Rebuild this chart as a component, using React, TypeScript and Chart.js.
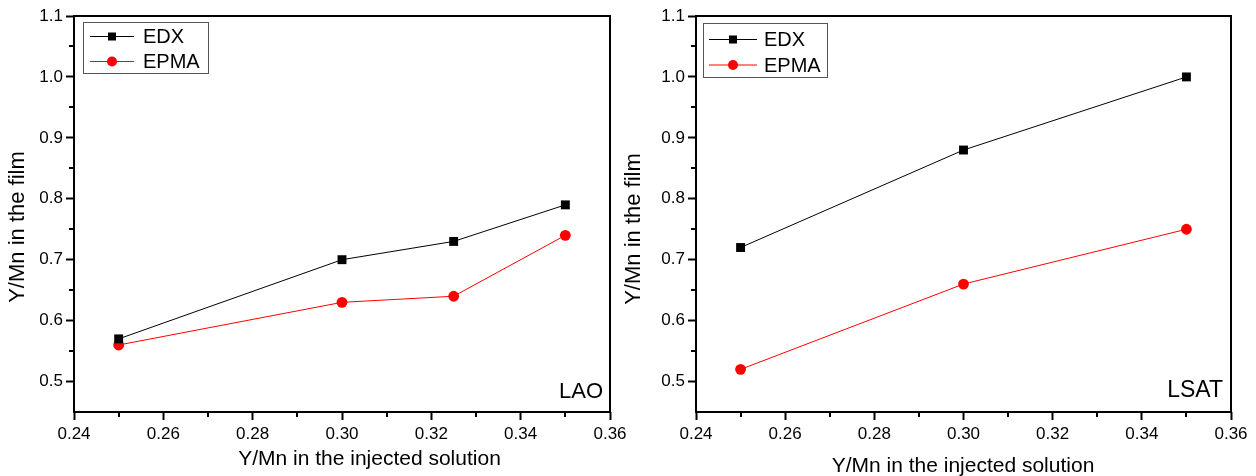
import React, { useEffect, useRef } from 'react';
import { Chart, registerables } from 'chart.js';

Chart.register(...registerables);

const FONT = '"Liberation Sans", Arial, Helvetica, sans-serif';

// ---- data ----
const seriesNames = ['EDX', 'EPMA'];
const seriesColors = ['#000000', '#ff0000'];
const seriesPointStyles = ['rect', 'circle'];

const laoX = [0.25, 0.3, 0.325, 0.35];
const laoEdx = [0.57, 0.7, 0.73, 0.79];
const laoEpma = [0.56, 0.63, 0.64, 0.74];

const lsatX = [0.25, 0.3, 0.35];
const lsatEdx = [0.72, 0.88, 1.0];
const lsatEpma = [0.52, 0.66, 0.75];

const xTickValues = [0.24, 0.26, 0.28, 0.3, 0.32, 0.34, 0.36];
const yTickValues = [0.5, 0.6, 0.7, 0.8, 0.9, 1.0, 1.1];
const xMinorValues = [0.25, 0.27, 0.29, 0.31, 0.33, 0.35];
const yMinorValues = [0.55, 0.65, 0.75, 0.85, 0.95, 1.05];

const xTitleText = 'Y/Mn in the injected solution';
const yTitleText = 'Y/Mn in the film';

const X_MIN = 0.24;
const X_MAX = 0.36;
const Y_MIN = 0.45;
const Y_MAX = 1.1;

type PanelSpec = {
  left: number;
  width: number;
  height: number;
  padRight: number;
  yWidth: number;
  xs: number[];
  edx: number[];
  epma: number[];
  label: string;
  labelFont: number;
  labelRightInset: number;
  labelBaseline: number;
  legend: { x: number; y: number; w: number; h: number; rows: number[]; lx1: number; lx2: number; tx: number };
  xTitle: { x: number; y: number };
  yTitle: { x: number; y: number };
};

const panels: PanelSpec[] = [
  {
    left: 0,
    width: 640,
    height: 476,
    padRight: 30,
    yWidth: 74,
    xs: laoX,
    edx: laoEdx,
    epma: laoEpma,
    label: 'LAO',
    labelFont: 22,
    labelRightInset: 7,
    labelBaseline: 398,
    legend: { x: 83, y: 22, w: 125, h: 51, rows: [36.5, 61.5], lx1: 90, lx2: 134, tx: 143 },
    xTitle: { x: 369.5, y: 459 },
    yTitle: { x: 17.5, y: 227 },
  },
  {
    left: 620,
    width: 636,
    height: 476,
    padRight: 25,
    yWidth: 76,
    xs: lsatX,
    edx: lsatEdx,
    epma: lsatEpma,
    label: 'LSAT',
    labelFont: 23,
    labelRightInset: 8,
    labelBaseline: 397,
    legend: { x: 83, y: 23, w: 124, h: 54, rows: [39.5, 65], lx1: 89, lx2: 137, tx: 144 },
    xTitle: { x: 343, y: 466 },
    yTitle: { x: 14, y: 229 },
  },
];

const decorPlugin = {
  id: 'decor',
  afterDraw(chart: any, _args: any, opts: any) {
    const spec: PanelSpec = opts.spec;
    if (!spec) return;
    const { ctx, chartArea: a, scales } = chart;
    ctx.save();

    // frame
    ctx.strokeStyle = '#000';
    ctx.lineWidth = 2;
    ctx.strokeRect(a.left, a.top, a.right - a.left, a.bottom - a.top);

    // minor ticks
    ctx.lineWidth = 2;
    ctx.beginPath();
    for (const v of xMinorValues) {
      const px = Math.round(scales.x.getPixelForValue(v));
      ctx.moveTo(px, a.bottom);
      ctx.lineTo(px, a.bottom + 5);
    }
    for (const v of yMinorValues) {
      const py = Math.round(scales.y.getPixelForValue(v));
      ctx.moveTo(a.left - 5, py);
      ctx.lineTo(a.left, py);
    }
    ctx.stroke();

    // legend box
    const L = spec.legend;
    ctx.lineWidth = 1;
    ctx.strokeStyle = '#555';
    ctx.strokeRect(L.x + 0.5, L.y + 0.5, L.w, L.h);
    seriesNames.forEach((name, i) => {
      const y = L.rows[i];
      ctx.strokeStyle = seriesColors[i];
      ctx.lineWidth = 1;
      ctx.beginPath();
      ctx.moveTo(L.lx1, y);
      ctx.lineTo(L.lx2, y);
      ctx.stroke();
      const mx = (L.lx1 + L.lx2) / 2;
      ctx.fillStyle = seriesColors[i];
      if (seriesPointStyles[i] === 'rect') {
        ctx.fillRect(mx - 4, y - 4, 8, 8);
      } else {
        ctx.beginPath();
        ctx.arc(mx, y, 5, 0, Math.PI * 2);
        ctx.fill();
      }
      ctx.fillStyle = '#000';
      ctx.font = `20px ${FONT}`;
      ctx.textAlign = 'left';
      ctx.textBaseline = 'middle';
      ctx.fillText(name, L.tx, y + 1);
    });

    // panel label
    ctx.fillStyle = '#000';
    ctx.font = `${spec.labelFont}px ${FONT}`;
    ctx.textAlign = 'right';
    ctx.textBaseline = 'alphabetic';
    ctx.fillText(spec.label, a.right - spec.labelRightInset, spec.labelBaseline);

    // axis titles
    ctx.font = `21px ${FONT}`;
    ctx.textAlign = 'center';
    ctx.textBaseline = 'middle';
    ctx.fillText(xTitleText, spec.xTitle.x, spec.xTitle.y);

    ctx.save();
    ctx.translate(spec.yTitle.x, spec.yTitle.y);
    ctx.rotate(-Math.PI / 2);
    ctx.font = `22px ${FONT}`;
    ctx.fillText(yTitleText, 0, 0);
    ctx.restore();

    ctx.restore();
  },
};

function Panel({ spec }: { spec: PanelSpec }) {
  const ref = useRef<HTMLCanvasElement | null>(null);

  useEffect(() => {
    if (!ref.current) return;
    const seriesValues = [spec.edx, spec.epma];
    const chart = new Chart(ref.current, {
      type: 'scatter',
      data: {
        datasets: seriesNames.map((name, i) => ({
          label: name,
          data: spec.xs.map((x, j) => ({ x, y: seriesValues[i][j] })),
          showLine: true,
          borderColor: seriesColors[i],
          backgroundColor: seriesColors[i],
          borderWidth: 1,
          pointStyle: seriesPointStyles[i] as any,
          pointRadius: seriesPointStyles[i] === 'rect' ? 6.3 : 5.4,
          pointBorderWidth: 0,
          pointBackgroundColor: seriesColors[i],
          tension: 0,
        })),
      },
      options: {
        responsive: false,
        animation: false,
        events: [],
        layout: { padding: { left: 0, right: spec.padRight, top: 16, bottom: 0 } },
        plugins: {
          legend: { display: false },
          tooltip: { enabled: false },
          decor: { spec },
        } as any,
        scales: {
          x: {
            type: 'linear',
            min: X_MIN,
            max: X_MAX,
            afterBuildTicks: (s: any) => {
              s.ticks = xTickValues.map((v) => ({ value: v }));
            },
            afterFit: (s: any) => {
              s.height = spec.height - 412;
            },
            border: { display: false },
            grid: {
              display: true,
              drawOnChartArea: false,
              drawTicks: true,
              tickLength: 8,
              tickWidth: 2,
              tickColor: '#000',
            },
            ticks: {
              autoSkip: false,
              maxRotation: 0,
              padding: 4,
              color: '#000',
              font: { family: FONT, size: 17 },
              callback: (v: any) => Number(v).toFixed(2),
            },
          },
          y: {
            type: 'linear',
            min: Y_MIN,
            max: Y_MAX,
            afterBuildTicks: (s: any) => {
              s.ticks = yTickValues.map((v) => ({ value: v }));
            },
            afterFit: (s: any) => {
              s.width = spec.yWidth;
            },
            border: { display: false },
            grid: {
              display: true,
              drawOnChartArea: false,
              drawTicks: true,
              tickLength: 8,
              tickWidth: 2,
              tickColor: '#000',
            },
            ticks: {
              autoSkip: false,
              padding: 3,
              color: '#000',
              font: { family: FONT, size: 17 },
              callback: (v: any) => Number(v).toFixed(1),
            },
          },
        },
      },
      plugins: [decorPlugin],
    });
    return () => chart.destroy();
  }, [spec]);

  return (
    <div style={{ position: 'absolute', left: spec.left, top: 0, width: spec.width, height: spec.height }}>
      <canvas ref={ref} width={spec.width} height={spec.height} />
    </div>
  );
}

export default function App() {
  return (
    <div style={{ position: 'absolute', left: 0, top: 0, width: 1256, height: 476, background: '#fff', overflow: 'hidden' }}>
      {panels.map((p, i) => (
        <Panel key={i} spec={p} />
      ))}
    </div>
  );
}
